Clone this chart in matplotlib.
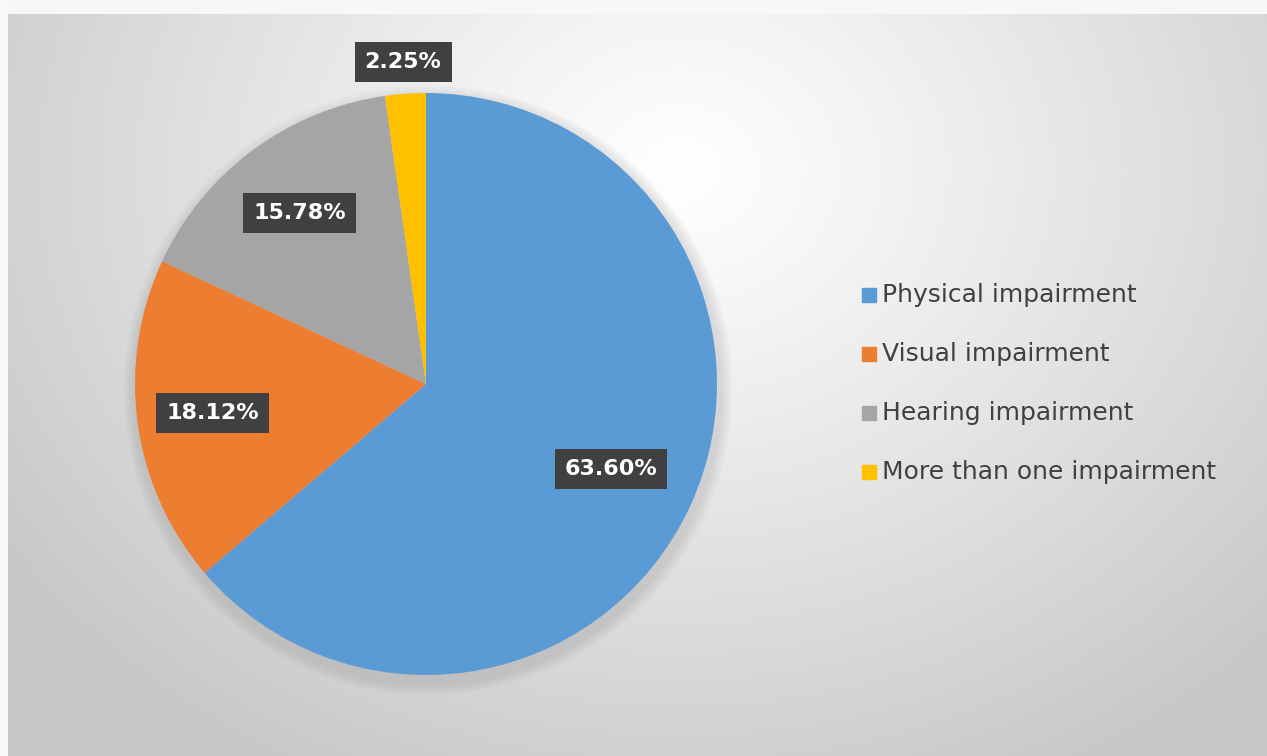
import matplotlib.pyplot as plt
import numpy as np

categories = ["Physical impairment", "Visual impairment", "Hearing impairment", "More than one impairment"]
shares = [63.60, 18.12, 15.78, 2.25]
labels = ["63.60%", "18.12%", "15.78%", "2.25%"]
colors = ["#5b9bd5", "#ed7d31", "#a5a5a5", "#ffc000"]

W, H = 1267, 756
fig = plt.figure(figsize=(W / 100, H / 100), dpi=100)
ax = fig.add_axes([0, 0, 1, 1])

# background: radial gradient, light near the upper middle (pixel rows from top)
yy, xx = np.mgrid[0:H, 0:W]
d = np.sqrt(((xx - 680) / 900.0) ** 2 + ((yy - 170) / 750.0) ** 2)
shade = np.clip(1.0 - 0.24 * d ** 1.1, 0.78, 1.0)
shade[yy < 14] = 0.97
shade[:, :8] = 0.98
ax.imshow(np.dstack([shade] * 3), extent=[0, W, 0, H], origin="upper", zorder=0)

cx, cy, r = 426, H - 384, 291

# soft shadow under the pie
for i in range(12):
    ax.add_patch(plt.Circle((cx + 2, cy - 6), r + 14 - i, color="#9a9a9a", alpha=0.025, lw=0, zorder=1))

wedges, _ = ax.pie(shares, colors=colors, startangle=90, counterclock=False,
                   center=(cx, cy), radius=r, frame=True,
                   wedgeprops=dict(linewidth=0, zorder=2))
ax.set_xlim(0, W)
ax.set_ylim(0, H)
ax.set_aspect("equal")
ax.axis("off")

dists = [0.70, 0.74, 0.73, 1.11]
font = ["Liberation Sans Narrow", "DejaVu Sans Condensed", "DejaVu Sans"]
for w, lab, dist in zip(wedges, labels, dists):
    ang = np.deg2rad((w.theta1 + w.theta2) / 2)
    x = cx + dist * r * np.cos(ang)
    y = cy + dist * r * np.sin(ang)
    ax.text(x, y, lab, color="white", fontsize=16, fontweight="bold", family=font,
            ha="center", va="center", zorder=5,
            bbox=dict(boxstyle="square,pad=0.45", fc="#404040", ec="none"))

# legend
ly0 = H - 295
for i, (name, c) in enumerate(zip(categories, colors)):
    y = ly0 - i * 59
    ax.add_patch(plt.Rectangle((862, y - 7), 14, 14, color=c, zorder=5))
    ax.text(882, y, name, fontsize=18, color="#404040", family=font,
            ha="left", va="center", zorder=5)

fig.savefig("out.png", dpi=100)
